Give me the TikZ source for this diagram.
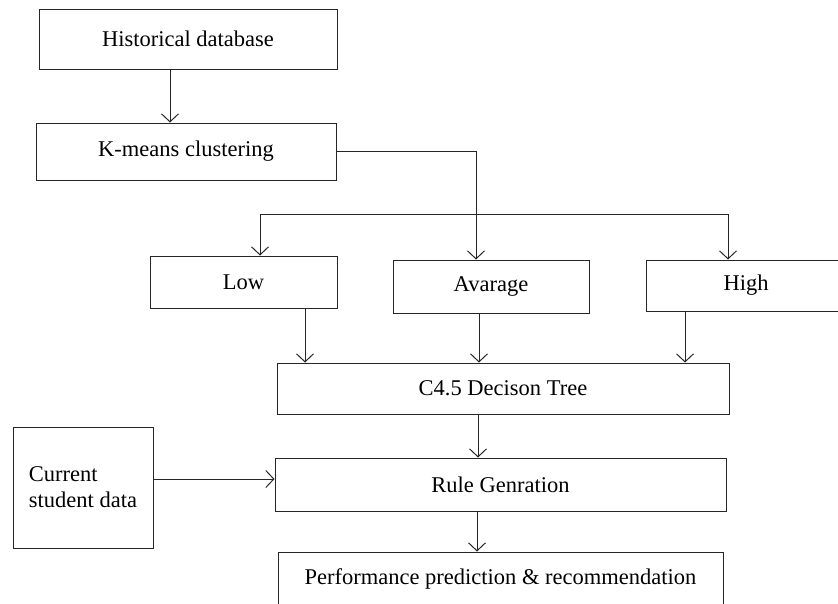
\documentclass[tikz,border=0pt]{standalone}
\usepackage{fontspec}
\setmainfont{Liberation Serif}
\usetikzlibrary{arrows.meta}

\tikzset{
  box/.style={draw=black!85, line width=1pt, inner sep=0pt,
    font=\fontsize{22.5}{26}\selectfont},
  arr/.style={draw=black!85, line width=1pt,
    -{Straight Barb[length=8pt,width=17pt]}},
  plain/.style={draw=black!85, line width=1pt},
}

\begin{document}
\begin{tikzpicture}[x=1pt,y=-1pt]
    \useasboundingbox (0,0) rectangle (838,603);

    % Boxes
    \node[box, minimum width=298pt, minimum height=60pt] (hist) at (188,39) {Historical database};
    \node[box, minimum width=300pt, minimum height=57pt] (kmeans) at (186,151.5) {K-means clustering};

    \node[box, minimum width=187pt, minimum height=52pt] (low) at (243.5,282) {Low};
    \node[box, minimum width=196pt, minimum height=53pt] (avg) at (491,286.5) {Avarage};
    \node[box, minimum width=200pt, minimum height=51pt] (high) at (746,285.5) {High};

    \node[box, minimum width=452pt, minimum height=51pt] (c45) at (503,388.5) {C4.5 Decison Tree};
    \node[box, minimum width=451pt, minimum height=53pt] (rule) at (500.5,484.5) {Rule Genration};
    \node[box, minimum width=445pt, minimum height=54pt] (perf) at (500.5,579) {Performance prediction \& recommendation};

    \node[box, minimum width=140pt, minimum height=121pt, align=left] (cur) at (83,487.5) {Current\\student data};

    % Branch points
    \coordinate (histout) at (170,69);
    \coordinate (forkL) at (260,214);
    \coordinate (forkM) at (476,214);
    \coordinate (forkR) at (728,214);
    \coordinate (lowout) at (305,308);
    \coordinate (avgout) at (479,313);
    \coordinate (highout) at (685,311);
    \coordinate (c45out) at (478,414);
    \coordinate (ruleout) at (477,511);
    \coordinate (curout) at (153,479);

    % Connectors
    \draw[arr] (histout) -- (histout |- kmeans.north);
    \draw[plain] (kmeans.east) -| (forkM);
    \draw[plain] (forkL) -- (forkR);
    \draw[arr] (forkL) -- (forkL |- low.north);
    \draw[arr] (forkM) -- (forkM |- avg.north);
    \draw[arr] (forkR) -- (forkR |- high.north);

    \draw[arr] (lowout) -- (lowout |- c45.north);
    \draw[arr] (avgout) -- (avgout |- c45.north);
    \draw[arr] (highout) -- (highout |- c45.north);

    \draw[arr] (c45out) -- (c45out |- rule.north);
    \draw[arr] (curout) -- (curout -| rule.west);
    \draw[arr] (ruleout) -- (ruleout |- perf.north);
\end{tikzpicture}
\end{document}
